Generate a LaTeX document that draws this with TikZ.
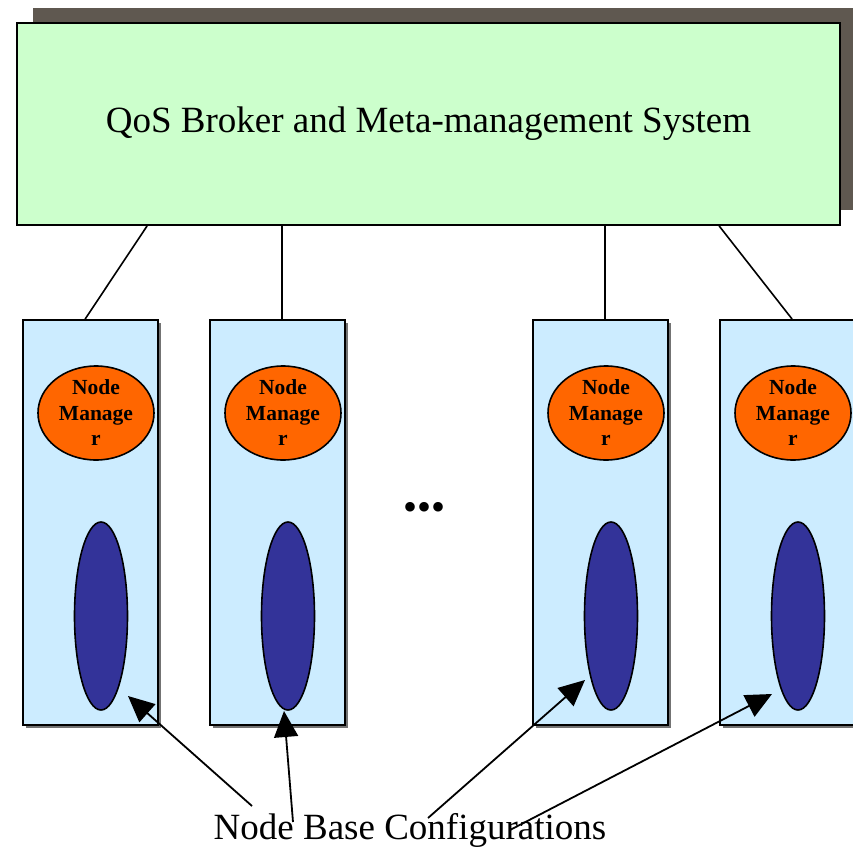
\documentclass[tikz,border=0pt]{standalone}
\usepackage{fontspec}
\setmainfont{Liberation Serif}
\usetikzlibrary{shapes.geometric,shadows,arrows.meta,calc}
\definecolor{brokerfill}{HTML}{CCFFCC}
\definecolor{brokershade}{HTML}{5F5850}
\definecolor{colfill}{HTML}{CCECFF}
\definecolor{mgrfill}{HTML}{FF6600}
\definecolor{basefill}{HTML}{333399}
\tikzset{
  broker/.style={draw, line width=1.8pt, fill=brokerfill, minimum width=823pt, minimum height=202pt,
    inner sep=0pt, font=\fontsize{37}{44}\selectfont,
    drop shadow={shadow xshift=16pt, shadow yshift=15pt, fill=brokershade, opacity=1}},
  column/.style={draw, line width=1.8pt, fill=colfill, minimum width=135pt, minimum height=405pt,
    inner sep=0pt, drop shadow={shadow xshift=3pt, shadow yshift=-3pt, fill=black!55, opacity=1}},
  manager/.style={ellipse, draw, line width=1.6pt, fill=mgrfill, minimum width=116pt, minimum height=94pt,
    inner sep=0pt, align=center, font=\bfseries\fontsize{21.5}{25.5}\selectfont},
  baseconf/.style={ellipse, draw, line width=1.6pt, fill=basefill, minimum width=53pt, minimum height=188pt, inner sep=0pt},
  link/.style={line width=1.6pt},
  pointer/.style={line width=1.8pt, -{Triangle[length=26pt,width=24pt]}},
}
\begin{document}
\begin{tikzpicture}[x=1pt,y=-1pt]
\useasboundingbox (0,0) rectangle (853,848);
\begin{scope}
\clip (0,0) rectangle (853,848);

% management system on top
\node[broker] (broker) at (428.5,124) {QoS Broker and Meta-management System};

% the four node columns
\foreach \i/\x in {1/23,2/210,3/533,4/720}{
  \node[column] (col\i) at (\x+67.5,522.5) {};
  \node[manager] (nm\i) at (\x+73,413) {Node\\Manage\\r};
  \node[baseconf] (nb\i) at (\x+78,616) {};
}

% links from the broker to each column
\draw[link] ([xshift=131pt]broker.south west) -- ([xshift=63pt]col1.north west);
\draw[link] ([xshift=266pt]broker.south west) -- ([xshift=73pt]col2.north west);
\draw[link] ([xshift=589pt]broker.south west) -- ([xshift=73pt]col3.north west);
\draw[link] ([xshift=703pt]broker.south west) -- ([xshift=73pt]col4.north west);

% ellipsis between the columns
\node[font=\fontsize{40}{40}\selectfont] (dots) at (424,511) {•••};

% caption with its pointers
\node[font=\fontsize{37}{44}\selectfont] (lbl) at (410,830) {Node Base Configurations};
\draw[pointer] ($(lbl.center)+(-158,-24)$) -- ($(nb1.center)+(27,80)$);
\draw[pointer] ($(lbl.center)+(-117,-8)$) -- ($(nb2.center)+(-4,95)$);
\draw[pointer] ($(lbl.center)+(18,-12)$) -- ($(nb3.center)+(-26,64)$);
\draw[pointer] ($(lbl.center)+(100,0)$) -- ($(nb4.center)+(-26,78)$);
\end{scope}
\end{tikzpicture}
\end{document}
